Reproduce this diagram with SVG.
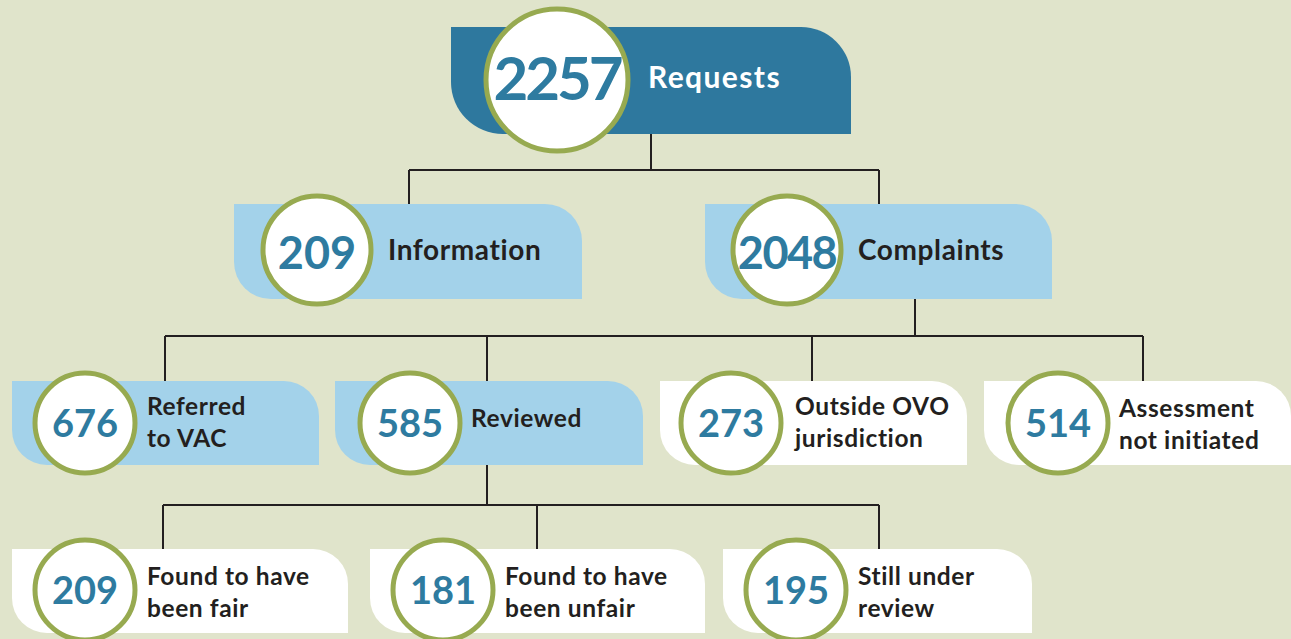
<svg xmlns="http://www.w3.org/2000/svg" width="1291" height="639" viewBox="0 0 1291 639">
  <defs>
    <style>
      .bg { fill: #E0E4CB; }
      .dark { fill: #2E789E; }
      .light { fill: #A3D2EA; }
      .white { fill: #FFFFFF; }
      .ring { fill: #FFFFFF; stroke: #97AA50; stroke-width: 5; }
      .num { font-family: Lato, "Liberation Sans", sans-serif; font-weight: 700; fill: #2E7BA0; text-anchor: middle; }
      .lbl { font-family: Lato, "Liberation Sans", sans-serif; font-weight: 700; fill: #231F20; letter-spacing: 0.6px; }
      .lblw { font-family: Lato, "Liberation Sans", sans-serif; font-weight: 700; fill: #FFFFFF; letter-spacing: 1.4px; }
      .wire { fill: none; stroke: #231F20; stroke-width: 2; }
    </style>
  </defs>

  <rect class="bg" x="0" y="0" width="1291" height="639"/>

  <!-- connectors -->
  <g id="connectors">
    <path class="wire" d="M651 134 V170 M409 170 H879 M409 170 V204 M879 170 V204"/>
    <path class="wire" d="M915 299 V336 M165 336 H1143 M165 336 V381 M487 336 V381 M812 336 V381 M1143 336 V381"/>
    <path class="wire" d="M487 465 V505 M163 505 H879 M163 505 V549 M537 505 V549 M879 505 V549"/>
  </g>

  <!-- top -->
  <g id="requests">
    <path class="dark" d="M451 27 H801 A50 50 0 0 1 851 77 V134 H503 A52 52 0 0 1 451 82 Z"/>
    <circle class="ring" cx="557" cy="80" r="71"/>
    <text class="num" x="557" y="100" font-size="60" letter-spacing="-3">2257</text>
    <text class="lblw" x="648" y="88" font-size="30">Requests</text>
  </g>

  <!-- level 1 -->
  <g id="information">
    <path class="light" d="M234 204 H545 A37 37 0 0 1 582 241 V299 H271 A37 37 0 0 1 234 262 Z"/>
    <circle class="ring" cx="317" cy="250" r="54"/>
    <text class="num" x="317" y="269" font-size="45">209</text>
    <text class="lbl" x="388" y="260" font-size="28">Information</text>
  </g>
  <g id="complaints">
    <path class="light" d="M705 204 H1015 A37 37 0 0 1 1052 241 V299 H742 A37 37 0 0 1 705 262 Z"/>
    <circle class="ring" cx="787" cy="250" r="54"/>
    <text class="num" x="787" y="269" font-size="45" letter-spacing="-1.5">2048</text>
    <text class="lbl" x="858" y="260" font-size="28">Complaints</text>
  </g>

  <!-- level 2 -->
  <g id="referred">
    <path class="light" d="M12 381 H284 A35 35 0 0 1 319 416 V465 H47 A35 35 0 0 1 12 430 Z"/>
    <circle class="ring" cx="85" cy="423" r="50"/>
    <text class="num" x="85" y="437" font-size="38">676</text>
    <text class="lbl" x="147" y="415" font-size="24.5">Referred</text>
    <text class="lbl" x="147" y="447" font-size="24.5">to VAC</text>
  </g>
  <g id="reviewed">
    <path class="light" d="M335 381 H608 A35 35 0 0 1 643 416 V465 H370 A35 35 0 0 1 335 430 Z"/>
    <circle class="ring" cx="410" cy="423" r="50"/>
    <text class="num" x="410" y="437" font-size="38">585</text>
    <text class="lbl" x="471" y="427" font-size="24.5">Reviewed</text>
  </g>
  <g id="outside">
    <path class="white" d="M660 381 H932 A35 35 0 0 1 967 416 V465 H695 A35 35 0 0 1 660 430 Z"/>
    <circle class="ring" cx="731" cy="423" r="50"/>
    <text class="num" x="731" y="437" font-size="38">273</text>
    <text class="lbl" x="795" y="415" font-size="24.5">Outside OVO</text>
    <text class="lbl" x="795" y="447" font-size="24.5">jurisdiction</text>
  </g>
  <g id="assessment">
    <path class="white" d="M984 381 H1256 A35 35 0 0 1 1291 416 V465 H1019 A35 35 0 0 1 984 430 Z"/>
    <circle class="ring" cx="1058" cy="423" r="50"/>
    <text class="num" x="1058" y="437" font-size="38">514</text>
    <text class="lbl" x="1119" y="417" font-size="24.5">Assessment</text>
    <text class="lbl" x="1119" y="449" font-size="24.5">not initiated</text>
  </g>

  <!-- level 3 -->
  <g id="fair">
    <path class="white" d="M12 549 H313 A35 35 0 0 1 348 584 V633 H47 A35 35 0 0 1 12 598 Z"/>
    <circle class="ring" cx="85" cy="590" r="50"/>
    <text class="num" x="85" y="604" font-size="38">209</text>
    <text class="lbl" x="147" y="585" font-size="24.5">Found to have</text>
    <text class="lbl" x="147" y="617" font-size="24.5">been fair</text>
  </g>
  <g id="unfair">
    <path class="white" d="M370 549 H670 A35 35 0 0 1 705 584 V633 H405 A35 35 0 0 1 370 598 Z"/>
    <circle class="ring" cx="443" cy="590" r="50"/>
    <text class="num" x="443" y="604" font-size="38">181</text>
    <text class="lbl" x="505" y="585" font-size="24.5">Found to have</text>
    <text class="lbl" x="505" y="617" font-size="24.5">been unfair</text>
  </g>
  <g id="pending">
    <path class="white" d="M723 549 H997 A35 35 0 0 1 1032 584 V633 H758 A35 35 0 0 1 723 598 Z"/>
    <circle class="ring" cx="796" cy="590" r="50"/>
    <text class="num" x="796" y="604" font-size="38">195</text>
    <text class="lbl" x="858" y="585" font-size="24.5">Still under</text>
    <text class="lbl" x="858" y="617" font-size="24.5">review</text>
  </g>
</svg>
